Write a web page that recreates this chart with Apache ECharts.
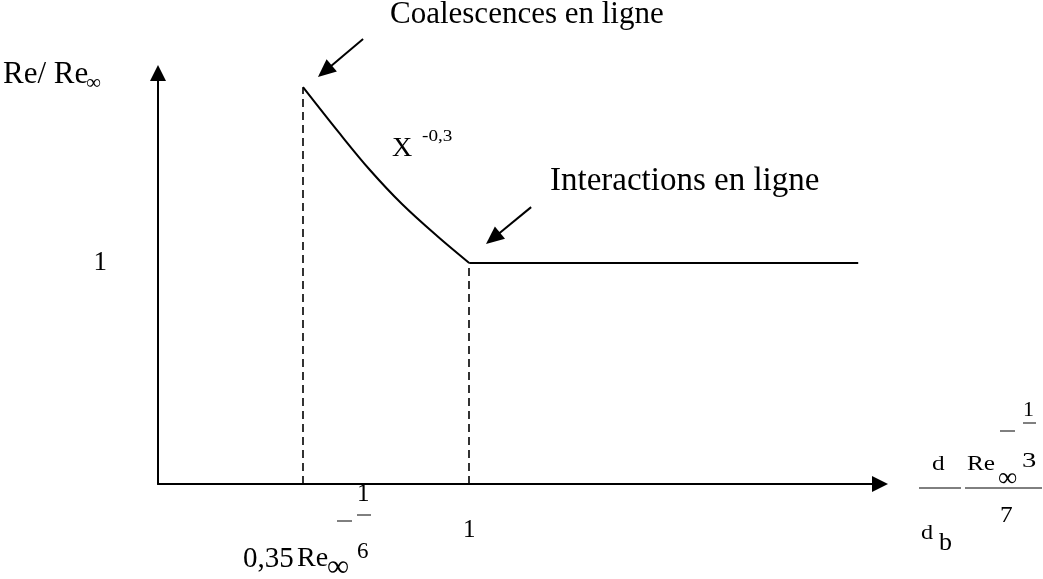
<!DOCTYPE html>
<html>
<head>
<meta charset="utf-8">
<script src="https://cdn.jsdelivr.net/npm/echarts@6/dist/echarts.min.js"></script>
<style>
  html, body { margin: 0; padding: 0; background: #fff; }
  #chart { width: 1043px; height: 579px; }
</style>
</head>
<body>
<div id="chart"></div>
<script>
// Reduced Reynolds number vs. reduced spacing (schematic)
const curveX = [0.466, 0.585, 0.681, 0.784, 0.897, 1.0];   // X^-0,3 branch
const curveY = [1.796, 1.584, 1.421, 1.267, 1.122, 1.0];
const plateauX = [1.0, 2.25];                              // interaction plateau
const plateauY = [1.0, 1.0];
const xTickValues = [1];
const yTickValues = [1];
const tickLabelX = ['1'];
const tickLabelY = ['1'];
// annotation arrows: [tail, tip] in data units
const arrowCoalescence = [[0.659, 2.014], [0.514, 1.842]];
const arrowInteraction = [[1.199, 1.253], [1.054, 1.086]];

const FONT = '"Liberation Serif", "Times New Roman", serif';
const black = '#000';

const curveData = curveX.map((x, i) => [x, curveY[i]]);
const plateauData = plateauX.map((x, i) => [x, plateauY[i]]);
const xStart = curveX[0];
const yStart = curveY[0];

function txt(text, x, y, size, sx) {
  return {
    type: 'text', x: x, y: y, scaleX: sx || 1, silent: true,
    style: { text: text, font: size + 'px ' + FONT, fill: black,
             align: 'left', verticalAlign: 'middle' }
  };
}
function bar(x1, y1, x2, w) {
  return { type: 'line', silent: true,
           shape: { x1: x1, y1: y1, x2: x2, y2: y1 },
           style: { stroke: black, lineWidth: w || 1 } };
}

const dashed = { color: black, width: 1.6, type: [8, 5] };

const staticGraphics = [
  // annotations
  txt('Coalescences en ligne', 390, 15, 31),
  txt('Interactions en ligne', 550, 181, 33),
  txt('X', 392, 149, 28),
  txt('-0,3', 422, 137, 16, 1.2),
  // y-axis title: Re/ Re∞
  txt('Re/ Re', 3, 75, 31),
  txt('∞', 86, 83, 21),
  // x tick label: 0,35 Re∞^(-1/6)
  txt('0,35', 243, 559, 29),
  txt('Re', 297, 559, 28),
  txt('∞', 327, 568, 31),
  txt('1', 357, 494, 25),
  bar(357, 515, 371),
  bar(337, 521, 352),
  txt('6', 357, 552, 23),
  // x-axis title: d/d_b · Re∞^(-1/3) / 7
  txt('d', 932, 464, 22, 1.15),
  bar(919, 488, 961),
  txt('d', 921, 533, 22, 1.1),
  txt('b', 939, 543, 26),
  txt('Re', 967, 464, 22, 1.15),
  txt('∞', 998, 479, 27),
  txt('3', 1022, 461, 22, 1.3),
  bar(1000, 431, 1015),
  bar(1023, 423, 1036),
  txt('1', 1023, 410, 22),
  bar(965, 488, 1042),
  txt('7', 1000, 516, 23, 1.1)
];

const chart = echarts.init(document.getElementById('chart'));
chart.setOption({
  animation: false,
  backgroundColor: '#fff',
  grid: { left: 158, right: 163, top: 73, bottom: 95 },
  xAxis: {
    type: 'value', min: 0, max: 2.32,
    splitLine: { show: false },
    axisTick: { show: false },
    axisLine: { show: true, lineStyle: { color: black, width: 2 },
                symbol: ['none', 'triangle'], symbolSize: [16, 16] },
    axisLabel: {
      customValues: xTickValues,
      formatter: v => tickLabelX[xTickValues.indexOf(v)] || '',
      margin: 34, color: black, fontSize: 25, fontFamily: FONT
    }
  },
  yAxis: {
    type: 'value', min: 0, max: 1.86,
    splitLine: { show: false },
    axisTick: { show: false },
    axisLine: { show: true, lineStyle: { color: black, width: 2 },
                symbol: ['none', 'triangle'], symbolSize: [16, 16] },
    axisLabel: {
      customValues: yTickValues,
      formatter: v => tickLabelY[yTickValues.indexOf(v)] || '',
      margin: 51, color: black, fontSize: 27, fontFamily: FONT
    }
  },
  series: [
    {
      name: 'coalescence', type: 'line', data: curveData, smooth: 0.35,
      symbol: 'none', silent: true, clip: false,
      lineStyle: { color: black, width: 2 }
    },
    {
      name: 'plateau', type: 'line', data: plateauData,
      symbol: 'none', silent: true, clip: false,
      lineStyle: { color: black, width: 2 }
    },
    {
      name: 'guides', type: 'line', data: [], symbol: 'none', silent: true, clip: false,
      markLine: {
        silent: true, symbol: ['none', 'none'], animation: false,
        label: { show: false },
        lineStyle: dashed,
        emphasis: { disabled: true },
        data: [
          [{ coord: [xStart, 0] }, { coord: [xStart, yStart] }],
          [{ coord: [1, 0] }, { coord: [1, 1] }],
          [{ coord: [-0.026, 1] }, { coord: [1, 1] }]
        ]
      }
    }
  ],
  graphic: staticGraphics
});

// annotation arrows placed through the grid's scales
function arrowGraphic(arrow) {
  const a = chart.convertToPixel({ gridIndex: 0 }, arrow[0]);
  const b = chart.convertToPixel({ gridIndex: 0 }, arrow[1]);
  const dx = b[0] - a[0], dy = b[1] - a[1];
  const len = Math.hypot(dx, dy);
  const ux = dx / len, uy = dy / len;
  const headLen = 18, headHalf = 8;
  const base = [b[0] - ux * headLen, b[1] - uy * headLen];
  return [
    { type: 'line', silent: true,
      shape: { x1: a[0], y1: a[1], x2: base[0] + ux * 2, y2: base[1] + uy * 2 },
      style: { stroke: black, lineWidth: 2 } },
    { type: 'polygon', silent: true,
      shape: { points: [
        b,
        [base[0] - uy * headHalf, base[1] + ux * headHalf],
        [base[0] + uy * headHalf, base[1] - ux * headHalf]
      ] },
      style: { fill: black } }
  ];
}
chart.setOption({
  graphic: staticGraphics
    .concat(arrowGraphic(arrowCoalescence))
    .concat(arrowGraphic(arrowInteraction))
}, { replaceMerge: ['graphic'] });
</script>
</body>
</html>
